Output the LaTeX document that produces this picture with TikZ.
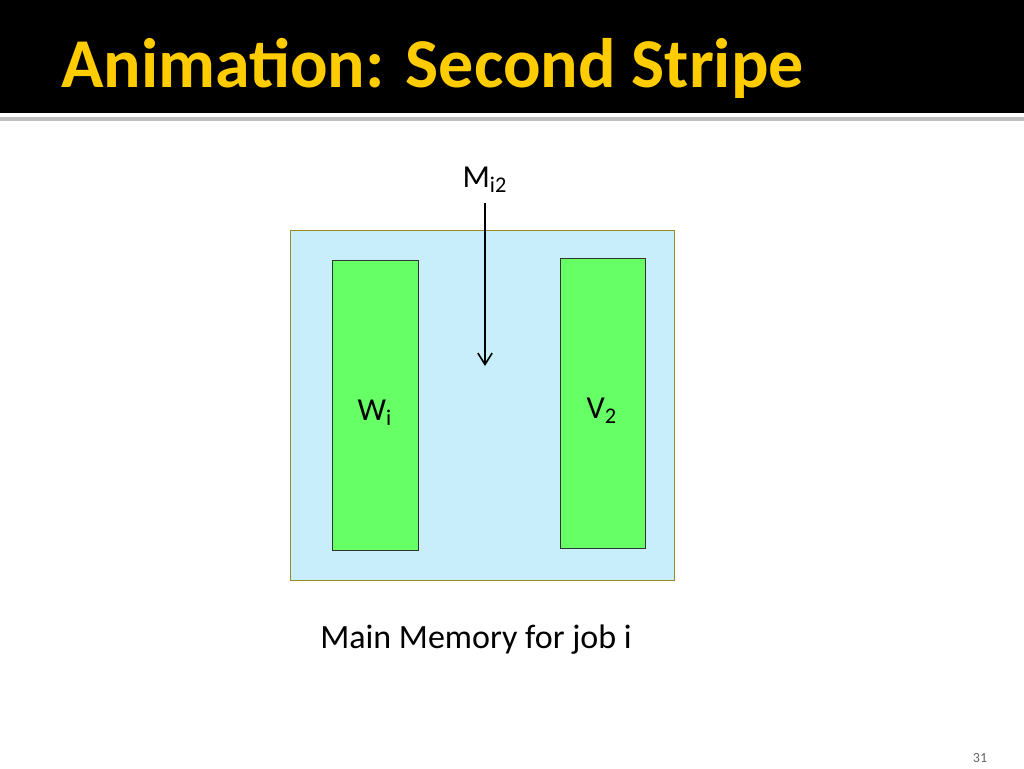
\documentclass[tikz,border=0pt]{standalone}
\usepackage{fontspec}
\setmainfont{Carlito}
\usetikzlibrary{arrows.meta,positioning}
\definecolor{titlegold}{RGB}{255,204,0}
\definecolor{memfill}{RGB}{199,238,250}
\definecolor{memline}{RGB}{150,140,40}
\definecolor{stripe}{RGB}{102,255,102}
\tikzset{
  membox/.style={
    rectangle,
    draw=memline,
    fill=memfill,
  },
  stripebox/.style={
    rectangle,
    draw=black!80,
    fill=stripe,
  },
  arrow/.style={
    thick,
    -{Straight Barb[length=2mm,width=2.5mm]},
  },
}
\begin{document}
\begin{tikzpicture}[x=0.5pt,y=-0.5pt]
  \useasboundingbox (0,0) rectangle (1024,768);

  % Header
  \fill[black] (0,0) rectangle (1024,113);
  \fill[black!25] (0,117) rectangle (1024,121);
  \node (title) [anchor=west, text=titlegold, font=\fontsize{35}{40}\selectfont\bfseries]
    at (54,68) {Animation: Second Stripe};

  % Memory and stripes
  \node (mem) [membox, minimum width=192pt, minimum height=175pt] at (482,405) {};
  \node (wbox) [stripebox, minimum width=43pt, minimum height=145pt] at (375,405) {};
  \node (vbox) [stripebox, minimum width=42.5pt, minimum height=145pt] at (602.5,403) {};
  \node (wlabel) at (375,413) {\fontsize{16}{19}\selectfont W\textsubscript{i}};
  \node (vlabel) at (602,411) {\fontsize{16}{19}\selectfont V\textsubscript{2}};

  % Arrow
  \node (mlabel) at (485,180) {\fontsize{16}{19}\selectfont M\textsubscript{i2}};
  \coordinate (arrowend) at (485,366);
  \draw [arrow] (485,203) -- (arrowend);

  % Caption
  \node (caption) at (476,640) {\fontsize{17}{20}\selectfont Main Memory for job i};
  \node (page) [text=black!60] at (980,758) {\fontsize{7}{8}\selectfont 31};
\end{tikzpicture}
\end{document}
